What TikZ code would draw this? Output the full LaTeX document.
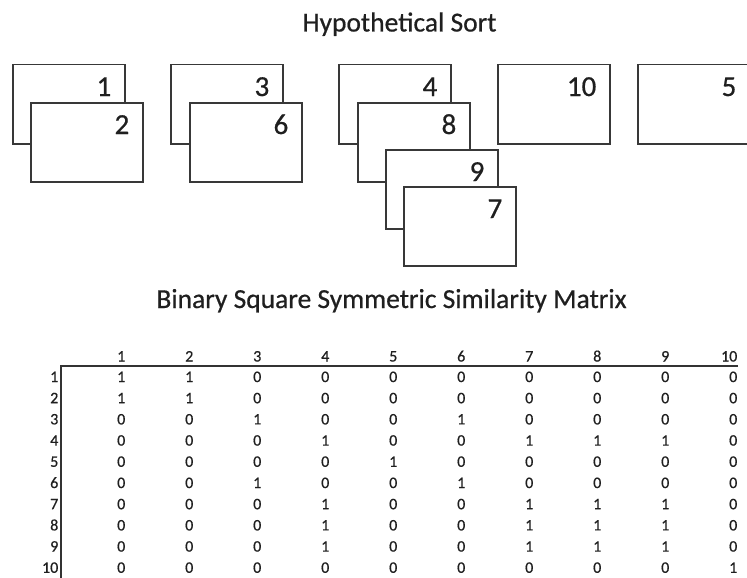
\documentclass[tikz,border=0pt]{standalone}
\usepackage{fontspec}
\setmainfont{Carlito}[FakeBold=0.6]
\begin{document}
\begin{tikzpicture}[x=1pt,y=-1pt,
  card/.style={draw=black!78, line width=1.5pt, fill=white, minimum width=112pt, minimum height=79pt, anchor=north west, inner sep=0pt},
  cardnum/.style={font=\fontsize{29}{31}\selectfont, inner sep=0pt, anchor=base east, text=black!88},
  title/.style={font=\fontsize{27.5}{30}\selectfont, inner sep=0pt, anchor=base, text=black!88},
  cell/.style={font=\fontsize{16}{18}\selectfont, inner sep=0pt, anchor=base east, text=black!88},
  rule/.style={line width=1.5pt, draw=black!80}]
\useasboundingbox (0,0) rectangle (747,578);
% titles
\node[title] (t1) at (399.5,31.5) {Hypothetical Sort};
\node[title] (t2) at (391.5,308) {Binary Square Symmetric Similarity Matrix};
% cards
\foreach \n/\x/\y in {1/12/64, 2/30/102, 3/170/64, 6/189/102, 4/338/64, 8/357/102, 9/385/149, 7/403/186, 10/497/64, 5/637/64}{
  \node[card] (c\n) at (\x,\y) {};
  \node[cardnum] (n\n) at ([xshift=-14pt,yshift=-32pt]c\n.north east) {\n};
}
% matrix
\foreach \j in {1,...,10}
  \node[cell] (h\j) at ({737.5-68*(10-\j)},361.5) {\j};
\foreach \i/\row in {1/{1,1,0,0,0,0,0,0,0,0},
                     2/{1,1,0,0,0,0,0,0,0,0},
                     3/{0,0,1,0,0,1,0,0,0,0},
                     4/{0,0,0,1,0,0,1,1,1,0},
                     5/{0,0,0,0,1,0,0,0,0,0},
                     6/{0,0,1,0,0,1,0,0,0,0},
                     7/{0,0,0,1,0,0,1,1,1,0},
                     8/{0,0,0,1,0,0,1,1,1,0},
                     9/{0,0,0,1,0,0,1,1,1,0},
                     10/{0,0,0,0,0,0,0,0,0,1}}{
  \node[cell] (r\i) at (58.5,{382+21.2*(\i-1)}) {\i};
  \foreach \v [count=\j] in \row
    \node[cell] (m\i-\j) at ({737.5-68*(10-\j)},{382+21.2*(\i-1)}) {\v};
}
\coordinate (hl) at (61,366);
\coordinate (hr) at (738,366);
\coordinate (vb) at (61,579);
\draw[rule] (hr) -- (hl) -- (vb);
\end{tikzpicture}
\end{document}
